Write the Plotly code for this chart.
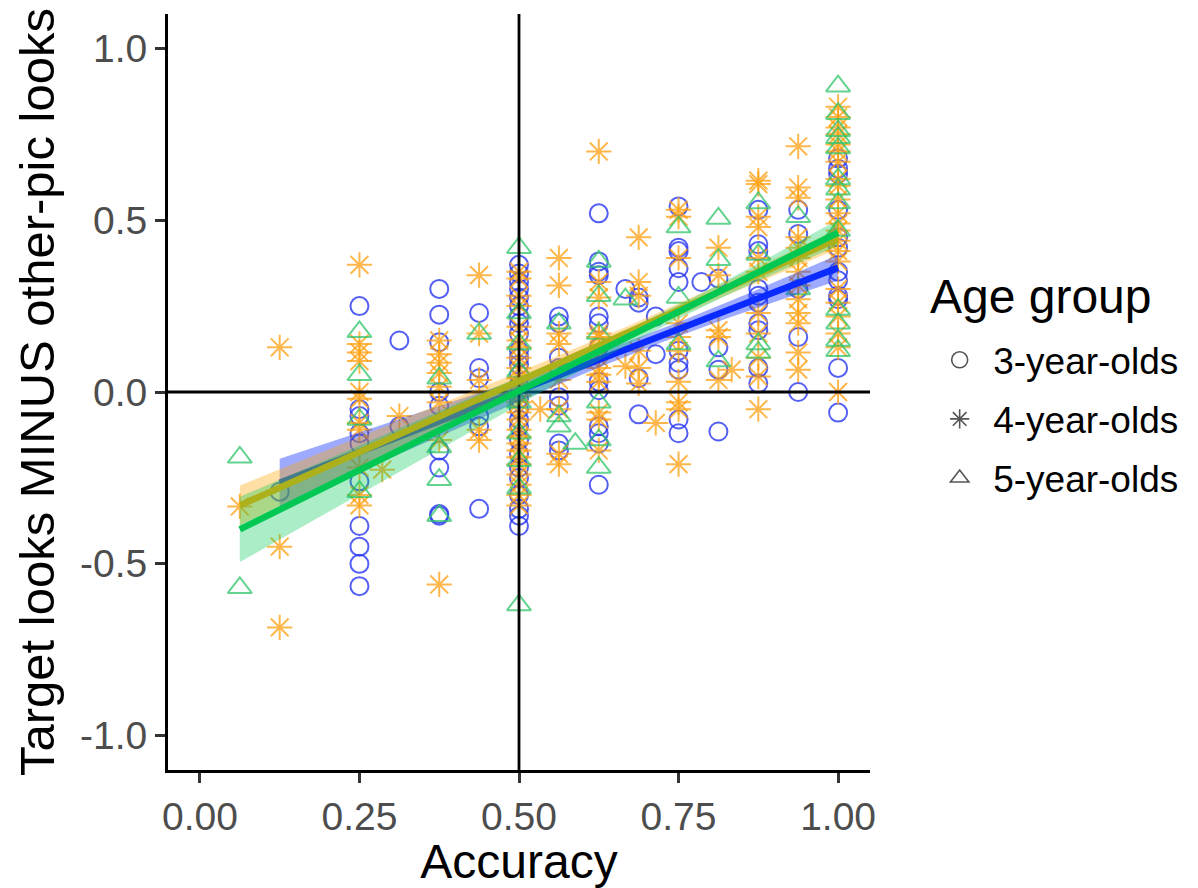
import numpy as np
import plotly.graph_objects as go

# ---------------- data ----------------
groups = ["3-year-olds", "4-year-olds", "5-year-olds"]

acc3 = ([0.125] + [0.25]*10 + [0.3125]*2 + [0.375]*9 + [0.4375]*6 + [0.5]*26 +
        [0.5625]*8 + [0.625]*13 + [0.6667] + [0.6875]*4 + [0.7143]*2 + [0.75]*10 +
        [0.7857] + [0.8125]*4 + [0.875]*10 + [0.9375]*5 + [1.0]*12)
diff3 = [-0.29,
         0.25, -0.05, -0.07, -0.12, -0.15, -0.26, -0.39, -0.45, -0.50, -0.565,
         0.15, -0.10,
         0.30, 0.225, 0.145, 0.0, -0.04, -0.17, -0.22, -0.355, -0.36,
         0.23, 0.07, 0.04, -0.07, -0.10, -0.34,
         0.37, 0.345, 0.32, 0.30, 0.275, 0.25, 0.22, 0.20, 0.17, 0.12, 0.10, 0.08, 0.05,
         0.02, -0.02, -0.05, -0.08, -0.10, -0.14, -0.18, -0.22, -0.25, -0.30, -0.34, -0.36, -0.39,
         0.22, 0.20, 0.10, 0.07, -0.015, -0.04, -0.15, -0.17,
         0.52, 0.38, 0.35, 0.34, 0.22, 0.20, 0.13, 0.03, 0.005, -0.10, -0.12, -0.15, -0.27,
         0.30,
         0.275, 0.26, 0.04, -0.065,
         0.22, 0.11,
         0.54, 0.42, 0.41, 0.36, 0.32, 0.12, 0.085, 0.065, -0.08, -0.12,
         0.32,
         0.33, 0.13, 0.065, -0.115,
         0.53, 0.43, 0.41, 0.30, 0.28, 0.26, 0.20, 0.18, 0.07, 0.025,
         0.53, 0.46, 0.30, 0.16, 0.0,
         0.68, 0.65, 0.635, 0.53, 0.45, 0.42, 0.35, 0.325, 0.28, 0.27, 0.07, -0.06]

acc4 = ([0.0625] + [0.125]*3 + [0.25]*11 + [0.2857] + [0.3125] + [0.375]*8 + [0.4375]*5 +
        [0.5]*26 + [0.5333] + [0.5625]*8 + [0.625]*12 + [0.6667] + [0.6875]*6 + [0.7143] +
        [0.75]*10 + [0.8125]*5 + [0.8333] + [0.875]*11 + [0.9375]*13 + [1.0]*22)
diff4 = [-0.333,
         0.13, -0.45, -0.685,
         0.37, 0.14, 0.115, 0.09, 0.0, -0.02, -0.09, -0.11, -0.22, -0.30, -0.33,
         -0.226,
         -0.07,
         0.15, 0.11, 0.085, 0.055, 0.015, -0.03, -0.14, -0.56,
         0.34, 0.17, 0.035, -0.11, -0.14,
         0.35, 0.33, 0.28, 0.25, 0.19, 0.15, 0.13, 0.10, 0.07, 0.04, 0.02, 0.0, -0.01,
         -0.03, -0.06, -0.08, -0.11, -0.13, -0.15, -0.17, -0.19, -0.21, -0.24, -0.27, -0.30, -0.33,
         -0.05,
         0.39, 0.31, 0.17, 0.14, 0.035, -0.05, -0.18, -0.21,
         0.70, 0.32, 0.275, 0.17, 0.16, 0.10, 0.07, 0.05, 0.03, -0.06, -0.08, -0.17,
         0.075,
         0.45, 0.32, 0.28, 0.12, 0.07, 0.025,
         -0.09,
         0.53, 0.51, 0.39, 0.20, 0.16, 0.12, 0.03, -0.03, -0.05, -0.21,
         0.42, 0.34, 0.18, 0.16, 0.035,
         0.065,
         0.615, 0.605, 0.51, 0.48, 0.39, 0.35, 0.23, 0.17, 0.10, 0.045, -0.05,
         0.715, 0.595, 0.565, 0.45, 0.42, 0.39, 0.35, 0.31, 0.27, 0.23, 0.20, 0.115, 0.065,
         0.83, 0.80, 0.77, 0.75, 0.72, 0.70, 0.67, 0.62, 0.60, 0.56, 0.52, 0.49, 0.47, 0.44,
         0.41, 0.38, 0.30, 0.26, 0.22, 0.17, 0.13, 0.0]

acc5 = ([0.0625]*2 + [0.25]*4 + [0.375]*4 + [0.4375] + [0.5]*9 + [0.5625]*3 + [0.5882] +
        [0.625]*6 + [0.6667] + [0.75]*3 + [0.8125]*3 + [0.875]*4 + [0.9375]*2 + [1.0]*13)
diff5 = [-0.19, -0.57,
         0.175, 0.05, -0.08, -0.29,
         0.04, -0.16, -0.255, -0.36,
         0.17,
         0.42, 0.23, 0.14, 0.06, -0.03, -0.12, -0.20, -0.28, -0.62,
         0.20, -0.07, -0.10,
         -0.15,
         0.38, 0.28, 0.17, -0.03, -0.14, -0.22,
         0.27,
         0.48, 0.275, 0.14,
         0.505, 0.385, 0.09,
         0.55, 0.40, 0.14, 0.115,
         0.51, 0.30,
         0.89, 0.81, 0.76, 0.74, 0.71, 0.62, 0.59, 0.55, 0.47, 0.24, 0.20, 0.15, 0.12]

# linear fits (geom_smooth, method = lm)
fit_x_lo = [0.125, 0.0625, 0.0625]
fit_x_hi = [1.0, 1.0, 1.0]
fit_y_lo = [-0.264, -0.33, -0.40]
fit_y_hi = [0.362, 0.446, 0.464]
ci_halfwidth_lo = [0.07, 0.058, 0.095]
ci_halfwidth_min = [0.02, 0.018, 0.02]
ci_center_x = [0.72, 0.72, 0.76]

x_ticks = [0.0, 0.25, 0.5, 0.75, 1.0]
x_tick_labels = ["0.00", "0.25", "0.50", "0.75", "1.00"]
y_ticks = [-1.0, -0.5, 0.0, 0.5, 1.0]
y_tick_labels = ["-1.0", "-0.5", "0.0", "0.5", "1.0"]
x_limits = [-0.05, 1.05]
y_limits = [-1.1, 1.1]
ref_x = 0.5
ref_y = 0.0
legend_title = "Age group"

# ---------------- styling ----------------
FONT = "Liberation Sans, Arial, Helvetica, sans-serif"
point_colors = ["#2233f0", "#ff9f0f", "#2fc46a"]
line_colors = ["#0a2bff", "#ffa500", "#00c853"]
band_colors = ["rgba(10,43,255,0.40)", "rgba(255,165,0,0.36)", "rgba(0,200,83,0.33)"]
symbols = ["circle-open", "asterisk-open", "triangle-up-open"]
sizes = [18, 21, 21]
opacities = [0.78, 0.75, 0.75]

accs = [acc3, acc4, acc5]
diffs = [diff3, diff4, diff5]

fig = go.Figure()

# points
for i in range(3):
    fig.add_trace(go.Scatter(
        x=accs[i], y=diffs[i], mode="markers", showlegend=False,
        marker=dict(symbol=symbols[i], size=sizes[i], color=point_colors[i],
                    opacity=opacities[i], line=dict(width=2, color=point_colors[i])),
        hoverinfo="skip"))

# reference lines (geom_vline / geom_hline)
fig.add_trace(go.Scatter(x=[ref_x, ref_x], y=y_limits, mode="lines", showlegend=False,
                         line=dict(color="black", width=2.8), hoverinfo="skip"))
fig.add_trace(go.Scatter(x=x_limits, y=[ref_y, ref_y], mode="lines", showlegend=False,
                         line=dict(color="black", width=2.8), hoverinfo="skip"))

# smooths
for i in range(3):
    xs = np.linspace(fit_x_lo[i], fit_x_hi[i], 100)
    slope = (fit_y_hi[i] - fit_y_lo[i]) / (fit_x_hi[i] - fit_x_lo[i])
    ys = fit_y_lo[i] + slope * (xs - fit_x_lo[i])
    m = ci_halfwidth_min[i]
    k = np.sqrt(ci_halfwidth_lo[i] ** 2 - m ** 2) / (ci_center_x[i] - fit_x_lo[i])
    hw = np.sqrt(m ** 2 + (k * (xs - ci_center_x[i])) ** 2)
    fig.add_trace(go.Scatter(
        x=np.concatenate([xs, xs[::-1]]),
        y=np.concatenate([ys + hw, (ys - hw)[::-1]]),
        fill="toself", fillcolor=band_colors[i], line=dict(width=0),
        mode="lines", showlegend=False, hoverinfo="skip"))
    fig.add_trace(go.Scatter(
        x=[xs[0], xs[-1]], y=[ys[0], ys[-1]], mode="lines", showlegend=False,
        line=dict(color=line_colors[i], width=6.5), hoverinfo="skip"))

# legend keys (grey, like ggplot's key glyphs)
for i in range(3):
    fig.add_trace(go.Scatter(
        x=[None], y=[None], mode="markers", name=groups[i], legendgroup=groups[i],
        marker=dict(symbol=symbols[i], size=16, color="#555555",
                    line=dict(width=1.6, color="#555555"))))

axis_common = dict(
    showgrid=False, zeroline=False, showline=True, linecolor="black", linewidth=3,
    ticks="outside", ticklen=10, tickwidth=3, tickcolor="#333333",
    tickfont=dict(family=FONT, size=39, color="#4d4d4d"),
)

# the page body adds an 8px offset, so the figure is 8px smaller each way
fig.update_layout(
    width=1190, height=880,
    margin=dict(l=160, r=328, t=6, b=118),
    plot_bgcolor="white", paper_bgcolor="white",
    font=dict(family=FONT),
    xaxis=dict(range=x_limits, tickvals=x_ticks, ticktext=x_tick_labels,
               title=dict(text="Accuracy", font=dict(family=FONT, size=48, color="black"),
                          standoff=4),
               **axis_common),
    yaxis=dict(range=y_limits, tickvals=y_ticks, ticktext=y_tick_labels,
               title=dict(text="Target looks MINUS other-pic looks",
                          font=dict(family=FONT, size=49, color="black"), standoff=10),
               **axis_common),
    legend=dict(
        font=dict(family=FONT, size=37, color="black"),
        x=1.08, xanchor="left", y=0.583, yanchor="top",
        tracegroupgap=8, bgcolor="rgba(0,0,0,0)", itemwidth=57,
    ),
    annotations=[dict(
        text=legend_title, xref="paper", yref="paper", x=1.082, y=0.588,
        xanchor="left", yanchor="bottom", showarrow=False,
        font=dict(family=FONT, size=48, color="black"))],
)

fig.write_html("out.html")
